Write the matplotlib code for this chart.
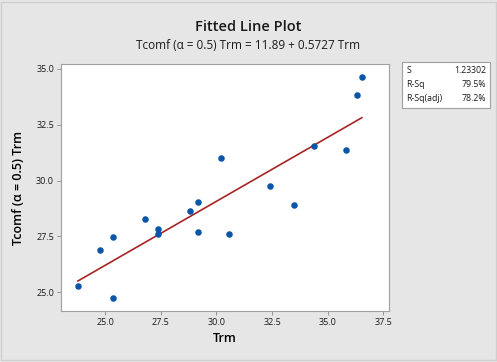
import matplotlib
matplotlib.use('Agg')
import matplotlib.pyplot as plt
from matplotlib.patches import Rectangle

# Data
trm = [23.77, 24.75, 25.36, 25.36, 26.77, 27.38, 27.38, 28.79, 29.18,
       29.18, 30.19, 30.58, 32.41, 33.50, 34.40, 35.82, 36.30, 36.54]
tcomf = [25.28, 26.90, 27.47, 24.76, 28.30, 27.81, 27.63, 28.64, 29.04,
         27.68, 31.00, 27.63, 29.76, 28.92, 31.55, 31.39, 33.85, 34.64]
intercept = 11.89
slope = 0.5727
stats_labels = ['S', 'R-Sq', 'R-Sq(adj)']
stats_values = ['1.23302', '79.5%', '78.2%']

plt.rcParams['font.family'] = ['Open Sans', 'DejaVu Sans']
plt.rcParams['text.color'] = '#1a1a1a'

fig = plt.figure(figsize=(4.97, 3.62), dpi=100, facecolor='#e6e6e6')
fig.patches.append(Rectangle((0.003, 0.005), 0.994, 0.99, transform=fig.transFigure,
                             fill=False, edgecolor='#cfcfcf', lw=1.0))

ax = fig.add_axes([0.1227, 0.1409, 0.66, 0.6823])
ax.set_facecolor('white')

# fitted line
xs = sorted(trm)
ax.plot(xs, [intercept + slope * x for x in xs], color='#a82424', lw=1.2, zorder=2)
ax.scatter(trm, tcomf, s=22, color='#0a55a8', zorder=3, linewidths=0)

ax.set_xlim(23.01, 37.76)
ax.set_ylim(24.16, 35.22)
ax.set_xticks([25.0, 27.5, 30.0, 32.5, 35.0, 37.5])
ax.set_yticks([25.0, 27.5, 30.0, 32.5, 35.0])
ax.set_xticklabels(['25.0', '27.5', '30.0', '32.5', '35.0', '37.5'])
ax.set_yticklabels(['25.0', '27.5', '30.0', '32.5', '35.0'])
ax.tick_params(labelsize=6.5, length=3, width=0.6, color='#888888', pad=2,
               labelcolor='#1a1a1a')
for lbl in ax.get_xticklabels() + ax.get_yticklabels():
    lbl.set_fontweight('medium')
for sp in ax.spines.values():
    sp.set_color('#a0a0a0')
    sp.set_linewidth(0.8)

ax.set_xlabel('Trm', fontsize=9, labelpad=4, fontweight='semibold')
ax.set_ylabel('Tcomf (α = 0.5) Trm', fontsize=9, labelpad=8, fontweight='semibold')

fig.text(0.5, 0.925, 'Fitted Line Plot', ha='center', va='center', fontsize=10.5,
         fontweight='semibold')
fig.text(0.5, 0.873, 'Tcomf (α = 0.5) Trm = 11.89 + 0.5727 Trm', ha='center',
         va='center', fontsize=8.5, fontweight='medium')

# summary box
fig.patches.append(Rectangle((0.809, 0.702), 0.177, 0.126, transform=fig.transFigure,
                             facecolor='white', edgecolor='#a0a0a0', lw=0.8))
for i, (lab, val) in enumerate(zip(stats_labels, stats_values)):
    y = 0.805 - i * 0.038
    fig.text(0.818, y, lab, fontsize=6.3, va='center', ha='left')
    fig.text(0.978, y, val, fontsize=6.3, va='center', ha='right')

fig.savefig('out.png', dpi=100, facecolor=fig.get_facecolor())
